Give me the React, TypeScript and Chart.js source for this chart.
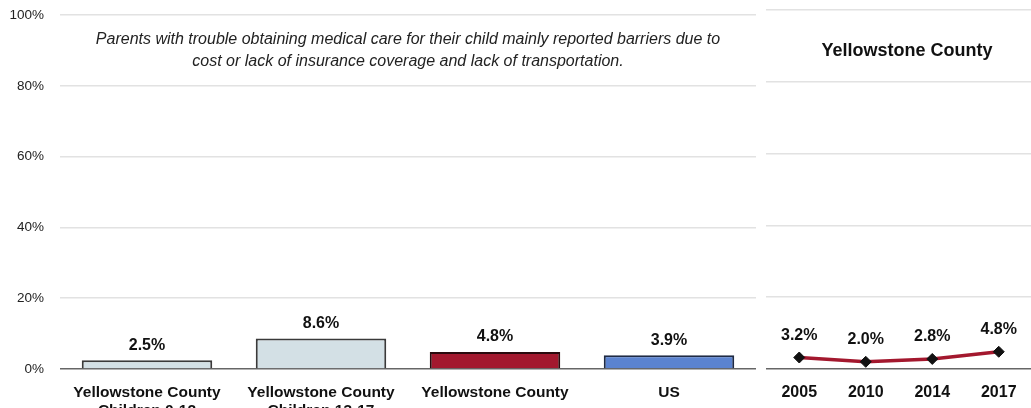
import React, { useEffect, useRef } from "react";
import { Chart, registerables } from "chart.js";

Chart.register(...registerables);

const barCategories: string[][] = [
  ["Yellowstone County", "Children 0-12"],
  ["Yellowstone County", "Children 13-17"],
  ["Yellowstone County"],
  ["US"],
];
const barValues = [2.5, 8.6, 4.8, 3.9];
const barColors = ["#d3e0e5", "#d3e0e5", "#a3182e", "#5b83d0"];
const barBorders = ["#3a3a3a", "#3a3a3a", "#2a0a0e", "#1e2a44"];
const yTicks = [0, 20, 40, 60, 80, 100];

const trendYears = ["2005", "2010", "2014", "2017"];
const trendValues = [3.2, 2.0, 2.8, 4.8];

const noteLines = [
  "Parents with trouble obtaining medical care for their child mainly reported barriers due to",
  "cost or lack of insurance coverage and lack of transportation.",
];
const trendTitle = "Yellowstone County";

const SANS = "'Liberation Sans', Arial, sans-serif";

export default function App() {
  const leftRef = useRef<HTMLCanvasElement | null>(null);
  const rightRef = useRef<HTMLCanvasElement | null>(null);

  useEffect(() => {
    const barLabelPlugin = {
      id: "barLabels",
      afterDatasetsDraw(chart: any) {
        const ctx = chart.ctx;
        const meta = chart.getDatasetMeta(0);
        ctx.save();
        ctx.font = `bold 16px ${SANS}`;
        ctx.fillStyle = "#111";
        ctx.textAlign = "center";
        ctx.textBaseline = "middle";
        meta.data.forEach((el: any, i: number) => {
          ctx.fillText(barValues[i].toFixed(1) + "%", el.x, el.y - 15);
        });
        const ca = chart.chartArea;
        const cx = (ca.left + ca.right) / 2;
        ctx.font = `italic 16px ${SANS}`;
        ctx.fillStyle = "#222";
        noteLines.forEach((t, i) => ctx.fillText(t, cx, 40 + i * 22));
        // y tick labels
        const ys = chart.scales.y;
        ctx.font = `13.5px ${SANS}`;
        ctx.fillStyle = "#222";
        ctx.textAlign = "right";
        yTicks.forEach((v) => ctx.fillText(v + "%", 44, ys.getPixelForValue(v)));
        ctx.restore();
      },
    };

    const lineLabelPlugin = {
      id: "lineLabels",
      afterDatasetsDraw(chart: any) {
        const ctx = chart.ctx;
        const meta = chart.getDatasetMeta(0);
        ctx.save();
        ctx.font = `bold 16px ${SANS}`;
        ctx.fillStyle = "#111";
        ctx.textAlign = "center";
        ctx.textBaseline = "middle";
        meta.data.forEach((el: any, i: number) => {
          ctx.fillText(trendValues[i].toFixed(1) + "%", el.x, el.y - 22);
        });
        ctx.font = `bold 18px ${SANS}`;
        ctx.fillText(trendTitle, 149, 51);
        ctx.restore();
      },
    };

    const gridColor = (c: any) => (c.tick && c.tick.value === 0 ? "#666" : "#e2e2e2");

    const left = new Chart(leftRef.current as HTMLCanvasElement, {
      type: "bar",
      data: {
        labels: barCategories as any,
        datasets: [
          {
            data: barValues,
            backgroundColor: barColors,
            borderColor: barBorders,
            borderWidth: 2,
            categoryPercentage: 1,
            barPercentage: 0.75,
          },
        ],
      },
      options: {
        animation: false,
        responsive: false,
        maintainAspectRatio: false,
        layout: { padding: { top: 15, right: 4, left: 0, bottom: 0 } },
        plugins: { legend: { display: false }, tooltip: { enabled: false } },
        scales: {
          x: {
            grid: { display: false, drawTicks: false },
            border: { display: false },
            ticks: {
              color: "#111",
              font: { family: SANS, size: 15.5, weight: "bold" },
              padding: 14,
              maxRotation: 0,
              autoSkip: false,
            },
            afterFit: (s: any) => {
              s.height = 71;
            },
          },
          y: {
            min: 0,
            max: 100,
            afterBuildTicks: (s: any) => {
              s.ticks = yTicks.map((v) => ({ value: v }));
            },
            grid: { color: gridColor, lineWidth: 1.5, drawTicks: false },
            border: { display: false },
            ticks: { display: false },
            afterFit: (s: any) => {
              s.width = 60;
            },
          },
        },
      },
      plugins: [barLabelPlugin],
    });

    const right = new Chart(rightRef.current as HTMLCanvasElement, {
      type: "line",
      data: {
        labels: trendYears,
        datasets: [
          {
            data: trendValues,
            borderColor: "#a3182e",
            borderWidth: 3.5,
            pointStyle: "rectRot",
            pointRadius: 5.5,
            pointBackgroundColor: "#111",
            pointBorderColor: "#111",
            pointBorderWidth: 1,
            tension: 0,
          },
        ],
      },
      options: {
        animation: false,
        responsive: false,
        maintainAspectRatio: false,
        layout: { padding: { top: 10, right: 16, left: 8, bottom: 0 } },
        plugins: { legend: { display: false }, tooltip: { enabled: false } },
        scales: {
          x: {
            offset: true,
            grid: { display: false, drawTicks: false },
            border: { display: false },
            ticks: {
              color: "#111",
              font: { family: SANS, size: 16, weight: "bold" },
              padding: 14,
            },
            afterFit: (s: any) => {
              s.height = 71;
            },
          },
          y: {
            min: 0,
            max: 100,
            afterBuildTicks: (s: any) => {
              s.ticks = yTicks.map((v) => ({ value: v }));
            },
            grid: { color: gridColor, lineWidth: 1.5, drawTicks: false },
            border: { display: false },
            ticks: { display: false },
            afterFit: (s: any) => {
              s.width = 0;
            },
          },
        },
      },
      plugins: [lineLabelPlugin],
    });

    return () => {
      left.destroy();
      right.destroy();
    };
  }, []);

  return (
    <div
      style={{
        position: "absolute",
        left: 0,
        top: 0,
        width: 1031,
        height: 408,
        overflow: "hidden",
        background: "#fff",
      }}
    >
      <canvas
        ref={leftRef}
        width={760}
        height={440}
        style={{ position: "absolute", left: 0, top: 0, width: 760, height: 440 }}
      />
      <canvas
        ref={rightRef}
        width={290}
        height={440}
        style={{ position: "absolute", left: 758, top: 0, width: 290, height: 440 }}
      />
    </div>
  );
}
